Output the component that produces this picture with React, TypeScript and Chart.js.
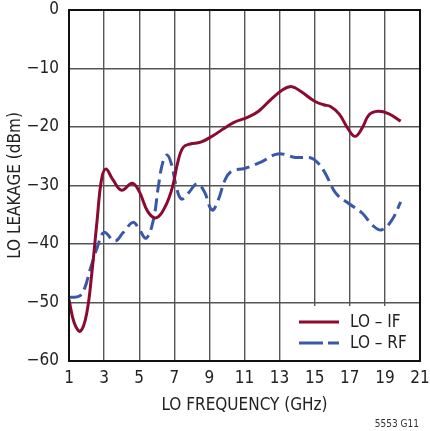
import React, { useEffect, useRef } from "react";
import { Chart, registerables } from "chart.js";

Chart.register(...registerables);

const freqIF = [1.0, 1.3, 1.65, 2.0, 2.3, 2.6, 2.85, 3.1, 3.5, 4.0, 4.6, 5.0, 5.5, 6.0, 6.5, 6.9, 7.2, 7.5, 7.9, 8.5, 9.2, 9.8, 10.4, 11.2, 11.8, 12.5, 13.2, 13.7, 14.2, 15.0, 15.5, 15.9, 16.4, 16.9, 17.3, 17.7, 18.1, 18.6, 19.2, 19.9];
const leakIF = [-49.5, -53.5, -54.9, -52, -45, -36, -29, -27.2, -29, -30.8, -29.6, -31, -34.5, -35.5, -33.5, -30.2, -26, -23.5, -22.9, -22.6, -21.5, -20.3, -19.2, -18.3, -17.3, -15.3, -13.6, -13.1, -13.9, -15.6, -16.2, -16.5, -17.8, -20.3, -21.6, -20.2, -17.9, -17.3, -17.7, -19.0];

const freqRF = [1.0, 1.6, 1.9, 2.2, 2.6, 3.0, 3.6, 4.1, 4.65, 5.0, 5.4, 5.8, 6.1, 6.35, 6.6, 6.85, 7.1, 7.4, 7.8, 8.3, 8.7, 9.15, 9.5, 9.9, 10.3, 11.0, 12.0, 12.9, 13.9, 14.8, 15.2, 15.6, 16.2, 16.9, 17.7, 18.3, 18.8, 19.4, 19.9];
const leakRF = [-49.1, -48.9, -47.5, -44.4, -40.7, -38.0, -39.5, -38, -36.3, -37.5, -39, -36, -30, -26, -24.8, -26.5, -30, -32.3, -31.3, -29.7, -31, -34.2, -32.5, -29, -27.5, -27.1, -25.9, -24.6, -25.2, -25.3, -26.2, -27.9, -31.3, -33.0, -34.7, -36.8, -37.6, -35.9, -32.8];

const seriesLabels = ["LO \u2013 IF", "LO \u2013 RF"];
const xTitle = "LO FREQUENCY (GHz)";
const yTitle = "LO LEAKAGE (dBm)";
const noteText = "5553 G11";

const FONT = "'Liberation Sans Narrow', 'DejaVu Sans Condensed', 'Liberation Sans', sans-serif";
const RED = "#8c0a30";
const BLUE = "#3a58aa";

const frameLegendPlugin = {
  id: "frameLegend",
  afterDatasetsDraw(chart: any) {
    const { ctx, chartArea } = chart;
    const { left, top, right, bottom } = chartArea;
    ctx.save();
    const bx = left + (right - left) * (12 / 20) + 2;
    const by = bottom - 55;
    ctx.fillStyle = "#ffffff";
    ctx.fillRect(bx, by, right - bx, bottom - by);
    const dsets = chart.data.datasets;
    const rows = [322, 343];
    dsets.forEach((ds: any, i: number) => {
      const y = rows[i];
      ctx.strokeStyle = ds.borderColor;
      ctx.lineWidth = 3;
      ctx.setLineDash(ds.borderDash ? [24, 5, 11, 5] : []);
      ctx.beginPath();
      ctx.moveTo(299, y);
      ctx.lineTo(339, y);
      ctx.stroke();
      ctx.setLineDash([]);
      ctx.fillStyle = "#222";
      ctx.font = `17px ${FONT}`;
      ctx.textAlign = "left";
      ctx.textBaseline = "middle";
      ctx.fillText(ds.label, 350, y + 1);
    });
    ctx.strokeStyle = "#111";
    ctx.lineWidth = 2;
    ctx.strokeRect(left, top, right - left, bottom - top);
    ctx.fillStyle = "#333";
    ctx.font = `10px ${FONT}`;
    ctx.textAlign = "right";
    ctx.textBaseline = "middle";
    ctx.fillText(noteText, 419, 424);
    ctx.restore();
  },
};

export default function App() {
  const canvasRef = useRef<HTMLCanvasElement | null>(null);

  useEffect(() => {
    document.body.style.margin = "0";
    const canvas = canvasRef.current;
    if (!canvas) return;
    const chart = new Chart(canvas, {
      type: "line",
      data: {
        datasets: [
          {
            label: seriesLabels[0],
            data: freqIF.map((x, i) => ({ x, y: leakIF[i] })),
            borderColor: RED,
            borderWidth: 3,
            pointRadius: 0,
            tension: 0.4,
            fill: false,
          },
          {
            label: seriesLabels[1],
            data: freqRF.map((x, i) => ({ x, y: leakRF[i] })),
            borderColor: BLUE,
            borderWidth: 3,
            borderDash: [13, 6],
            pointRadius: 0,
            tension: 0.4,
            fill: false,
          },
        ],
      },
      options: {
        animation: false,
        responsive: false,
        maintainAspectRatio: false,
        layout: { padding: { left: 0, top: 10, right: 10, bottom: 0 } },
        plugins: {
          legend: { display: false },
          tooltip: { enabled: false },
        },
        scales: {
          x: {
            type: "linear",
            min: 1,
            max: 21,
            afterFit: (s: any) => {
              s.height = 70;
              s.paddingLeft = 0;
              s.paddingRight = 0;
            },
            ticks: {
              stepSize: 2,
              color: "#222",
              padding: 7,
              maxRotation: 0,
              font: { family: FONT, size: 17 },
            },
            grid: { color: "#555", lineWidth: 1.4, drawTicks: false },
            border: { display: false },
            title: {
              display: true,
              text: xTitle,
              color: "#222",
              font: { family: FONT, size: 17 },
              padding: { top: 0, bottom: 15 },
            },
          },
          y: {
            type: "linear",
            min: -60,
            max: 0,
            afterFit: (s: any) => {
              s.width = 69;
              s.paddingTop = 0;
              s.paddingBottom = 0;
            },
            ticks: {
              stepSize: 10,
              color: "#222",
              padding: 10,
              font: { family: FONT, size: 17 },
              callback: (v: any) => String(v).replace("-", "\u2212"),
            },
            grid: { color: "#555", lineWidth: 1.4, drawTicks: false },
            border: { display: false },
            title: {
              display: true,
              text: yTitle,
              color: "#222",
              font: { family: FONT, size: 17 },
              padding: { top: 5, bottom: 0 },
            },
          },
        },
      },
      plugins: [frameLegendPlugin],
    });
    return () => chart.destroy();
  }, []);

  return (
    <div style={{ width: 430, height: 431, position: "relative", background: "#fff" }}>
      <canvas ref={canvasRef} width={430} height={431} style={{ display: "block" }} />
    </div>
  );
}
